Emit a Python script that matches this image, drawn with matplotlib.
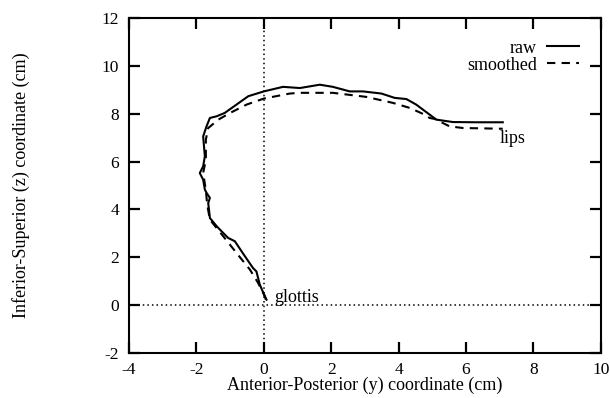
import matplotlib
matplotlib.use("Agg")
import matplotlib.pyplot as plt

plt.rcParams['font.family'] = ['Liberation Serif', 'DejaVu Serif']
plt.rcParams['axes.unicode_minus'] = False

# tongue contour, glottis -> lips, (y, z) in cm
raw_y = [0.08, 0.03, -0.12, -0.22, -0.32, -0.56, -0.86, -1.06, -1.25, -1.4, -1.6,
         -1.65, -1.6, -1.7, -1.75, -1.8, -1.9, -1.8, -1.75, -1.8, -1.7, -1.6, -1.4,
         -1.16, -0.81, -0.46, 0.0, 0.57, 1.07, 1.66, 2.05, 2.55, 2.94, 3.49, 3.88,
         4.23, 4.52, 4.92, 5.12, 5.61, 6.3, 7.09]
raw_z = [0.23, 0.37, 0.86, 1.41, 1.55, 2.04, 2.67, 2.81, 3.08, 3.3, 3.64,
         4.27, 4.48, 4.69, 4.83, 5.24, 5.52, 5.8, 6.22, 7.05, 7.47, 7.82, 7.89,
         8.03, 8.38, 8.73, 8.93, 9.12, 9.07, 9.21, 9.12, 8.93, 8.93, 8.84, 8.66,
         8.61, 8.38, 7.96, 7.75, 7.65, 7.64, 7.64]

smooth_y = [0.06, 0.03, -0.17, -0.41, -0.81, -1.2, -1.6, -1.68, -1.72, -1.8,
            -1.72, -1.72, -1.65, -1.35, -1.0, -0.51, 0.0, 0.77, 1.07, 1.96, 2.05,
            3.04, 3.83, 4.33, 4.77, 4.92, 5.07, 5.51, 5.91, 7.09]
smooth_z = [0.23, 0.37, 0.93, 1.48, 2.18, 2.87, 3.57, 4.2, 4.8, 5.52,
            6.08, 6.92, 7.4, 7.75, 8.03, 8.38, 8.63, 8.84, 8.87, 8.87, 8.87,
            8.7, 8.45, 8.24, 7.96, 7.82, 7.78, 7.47, 7.4, 7.37]

xticks = [-4, -2, 0, 2, 4, 6, 8, 10]
yticks = [-2, 0, 2, 4, 6, 8, 10, 12]

fs = 13

fig = plt.figure(figsize=(6.1, 3.98), dpi=100)
ax = fig.add_axes([0.2115, 0.113, 0.7735, 0.842])

ax.axvline(0, color='black', linestyle=(0, (1, 2)), linewidth=1.1)
ax.axhline(0, color='black', linestyle=(0, (1, 2)), linewidth=1.1)

ax.plot(raw_y, raw_z, color='black', linewidth=1.5, label='raw')
ax.plot(smooth_y, smooth_z, color='black', linewidth=1.5,
        linestyle=(0, (4, 3)), label='smoothed')

ax.text(0.3, 0.3, 'glottis', fontsize=fs, va='center', ha='left')
ax.text(7.0, 6.95, 'lips', fontsize=fs, va='center', ha='left')

ax.set_xlim(-4, 10)
ax.set_ylim(-2, 12)
ax.set_xticks(xticks)
ax.set_yticks(yticks)
ax.tick_params(direction='in', length=8, width=1.6, top=True, right=True,
               labelsize=12.5)
ax.tick_params(axis='x', pad=6.5)
ax.tick_params(axis='y', pad=7)
for sp in ax.spines.values():
    sp.set_linewidth(1.5)

ax.set_xlabel('Anterior-Posterior (y) coordinate (cm)', fontsize=fs, labelpad=-1)
ax.set_ylabel('Inferior-Superior (z) coordinate (cm)', fontsize=fs)
ax.yaxis.set_label_coords(-0.21, 0.5)

ax.legend(loc='upper right', frameon=False, markerfirst=False, fontsize=fs,
          handlelength=1.8, handletextpad=0.55, labelspacing=0.0,
          borderaxespad=1.0, borderpad=0.2)

plt.savefig('out.png', dpi=100)
